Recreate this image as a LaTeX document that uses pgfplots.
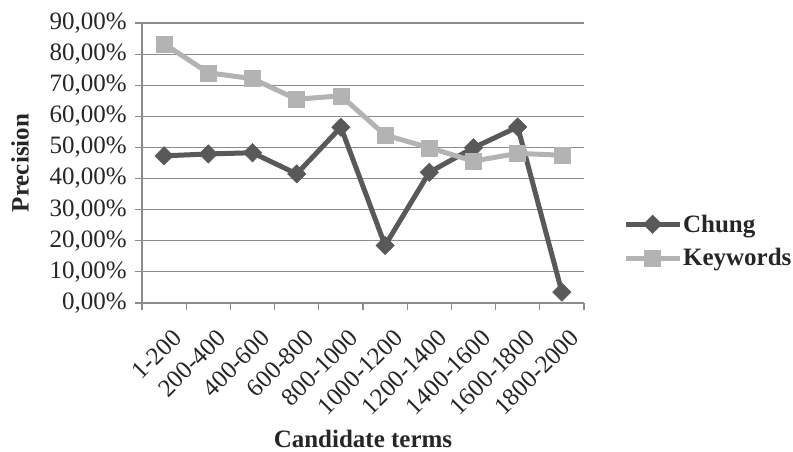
\documentclass[border=0pt]{standalone}
\usepackage{fontspec}
\setmainfont{Liberation Serif}
\usepackage{pgfplots}
\pgfplotsset{compat=1.18}
\definecolor{chung}{HTML}{595959}
\definecolor{kw}{HTML}{B3B3B3}
\definecolor{gridc}{HTML}{8C8C8C}
\newcommand{\fs}{\fontsize{25bp}{30bp}\selectfont}
\begin{document}
\begin{tikzpicture}
\useasboundingbox (-142bp,-149bp) rectangle (651bp,303bp);
\begin{axis}[
  scale only axis,
  width=442bp, height=280bp,
  xmin=0.5, xmax=10.5,
  ymin=0, ymax=90,
  axis lines=left,
  axis line style={-, draw=gridc, line width=1.2bp},
  ymajorgrids,
  grid style={draw=gridc, line width=1.2bp},
  ytick={0,10,...,90},
  yticklabels={{0,00\%},{10,00\%},{20,00\%},{30,00\%},{40,00\%},{50,00\%},{60,00\%},{70,00\%},{80,00\%},{90,00\%}},
  xtick={1,...,10},
  xticklabels={1-200,200-400,400-600,600-800,800-1000,1000-1200,1200-1400,1400-1600,1600-1800,1800-2000},
  minor xtick={0.5,1.5,...,10.5},
  tick align=outside,
  major tick length=7bp,
  minor tick length=7bp,
  x tick style={draw=none},
  minor x tick style={draw=gridc, line width=1.2bp},
  y tick style={draw=gridc, line width=1.2bp},
  tick label style={font=\fs, text=black!85},
  xticklabel style={rotate=45, anchor=north east, inner xsep=7.4bp, inner ysep=17.3bp},
  yticklabel style={inner sep=2bp, xshift=-6bp},
  xlabel={\textbf{Candidate terms}},
  ylabel={\textbf{Precision}},
  label style={font=\fs, text=black!85},
  xlabel style={at={(axis description cs:0.5,-0.485)}, anchor=center, inner sep=0bp},
  ylabel style={at={(axis description cs:-0.276,0.5)}, anchor=center},
  legend style={at={(axis description cs:1.088,0.221)}, anchor=west, draw=none, fill=none,
    font=\fs, text=black!85, row sep=13bp, inner sep=0bp, nodes={inner sep=1bp}, cells={anchor=west}},
  legend cell align=left,
  legend image code/.code={\draw[mark repeat=2,mark phase=2,#1] plot coordinates {(0bp,0bp)(27bp,0bp)(54bp,0bp)};},
]
\addplot[color=chung, line width=5bp, mark=square*, mark size=6.5bp, mark options={rotate=45, solid, line width=0.5bp}]
  coordinates {(1,47.3)(2,47.9)(3,48.3)(4,41.5)(5,56.5)(6,18.5)(7,42.0)(8,49.9)(9,56.6)(10,3.5)};
\addlegendentry{\textbf{Chung}}
\addplot[color=kw, line width=5bp, mark=square*, mark size=8bp, mark options={solid, line width=0.5bp}]
  coordinates {(1,83.3)(2,74.0)(3,72.1)(4,65.5)(5,66.6)(6,54.0)(7,49.9)(8,45.6)(9,48.1)(10,47.5)};
\addlegendentry{\textbf{Keywords}}
\end{axis}
\end{tikzpicture}
\end{document}
